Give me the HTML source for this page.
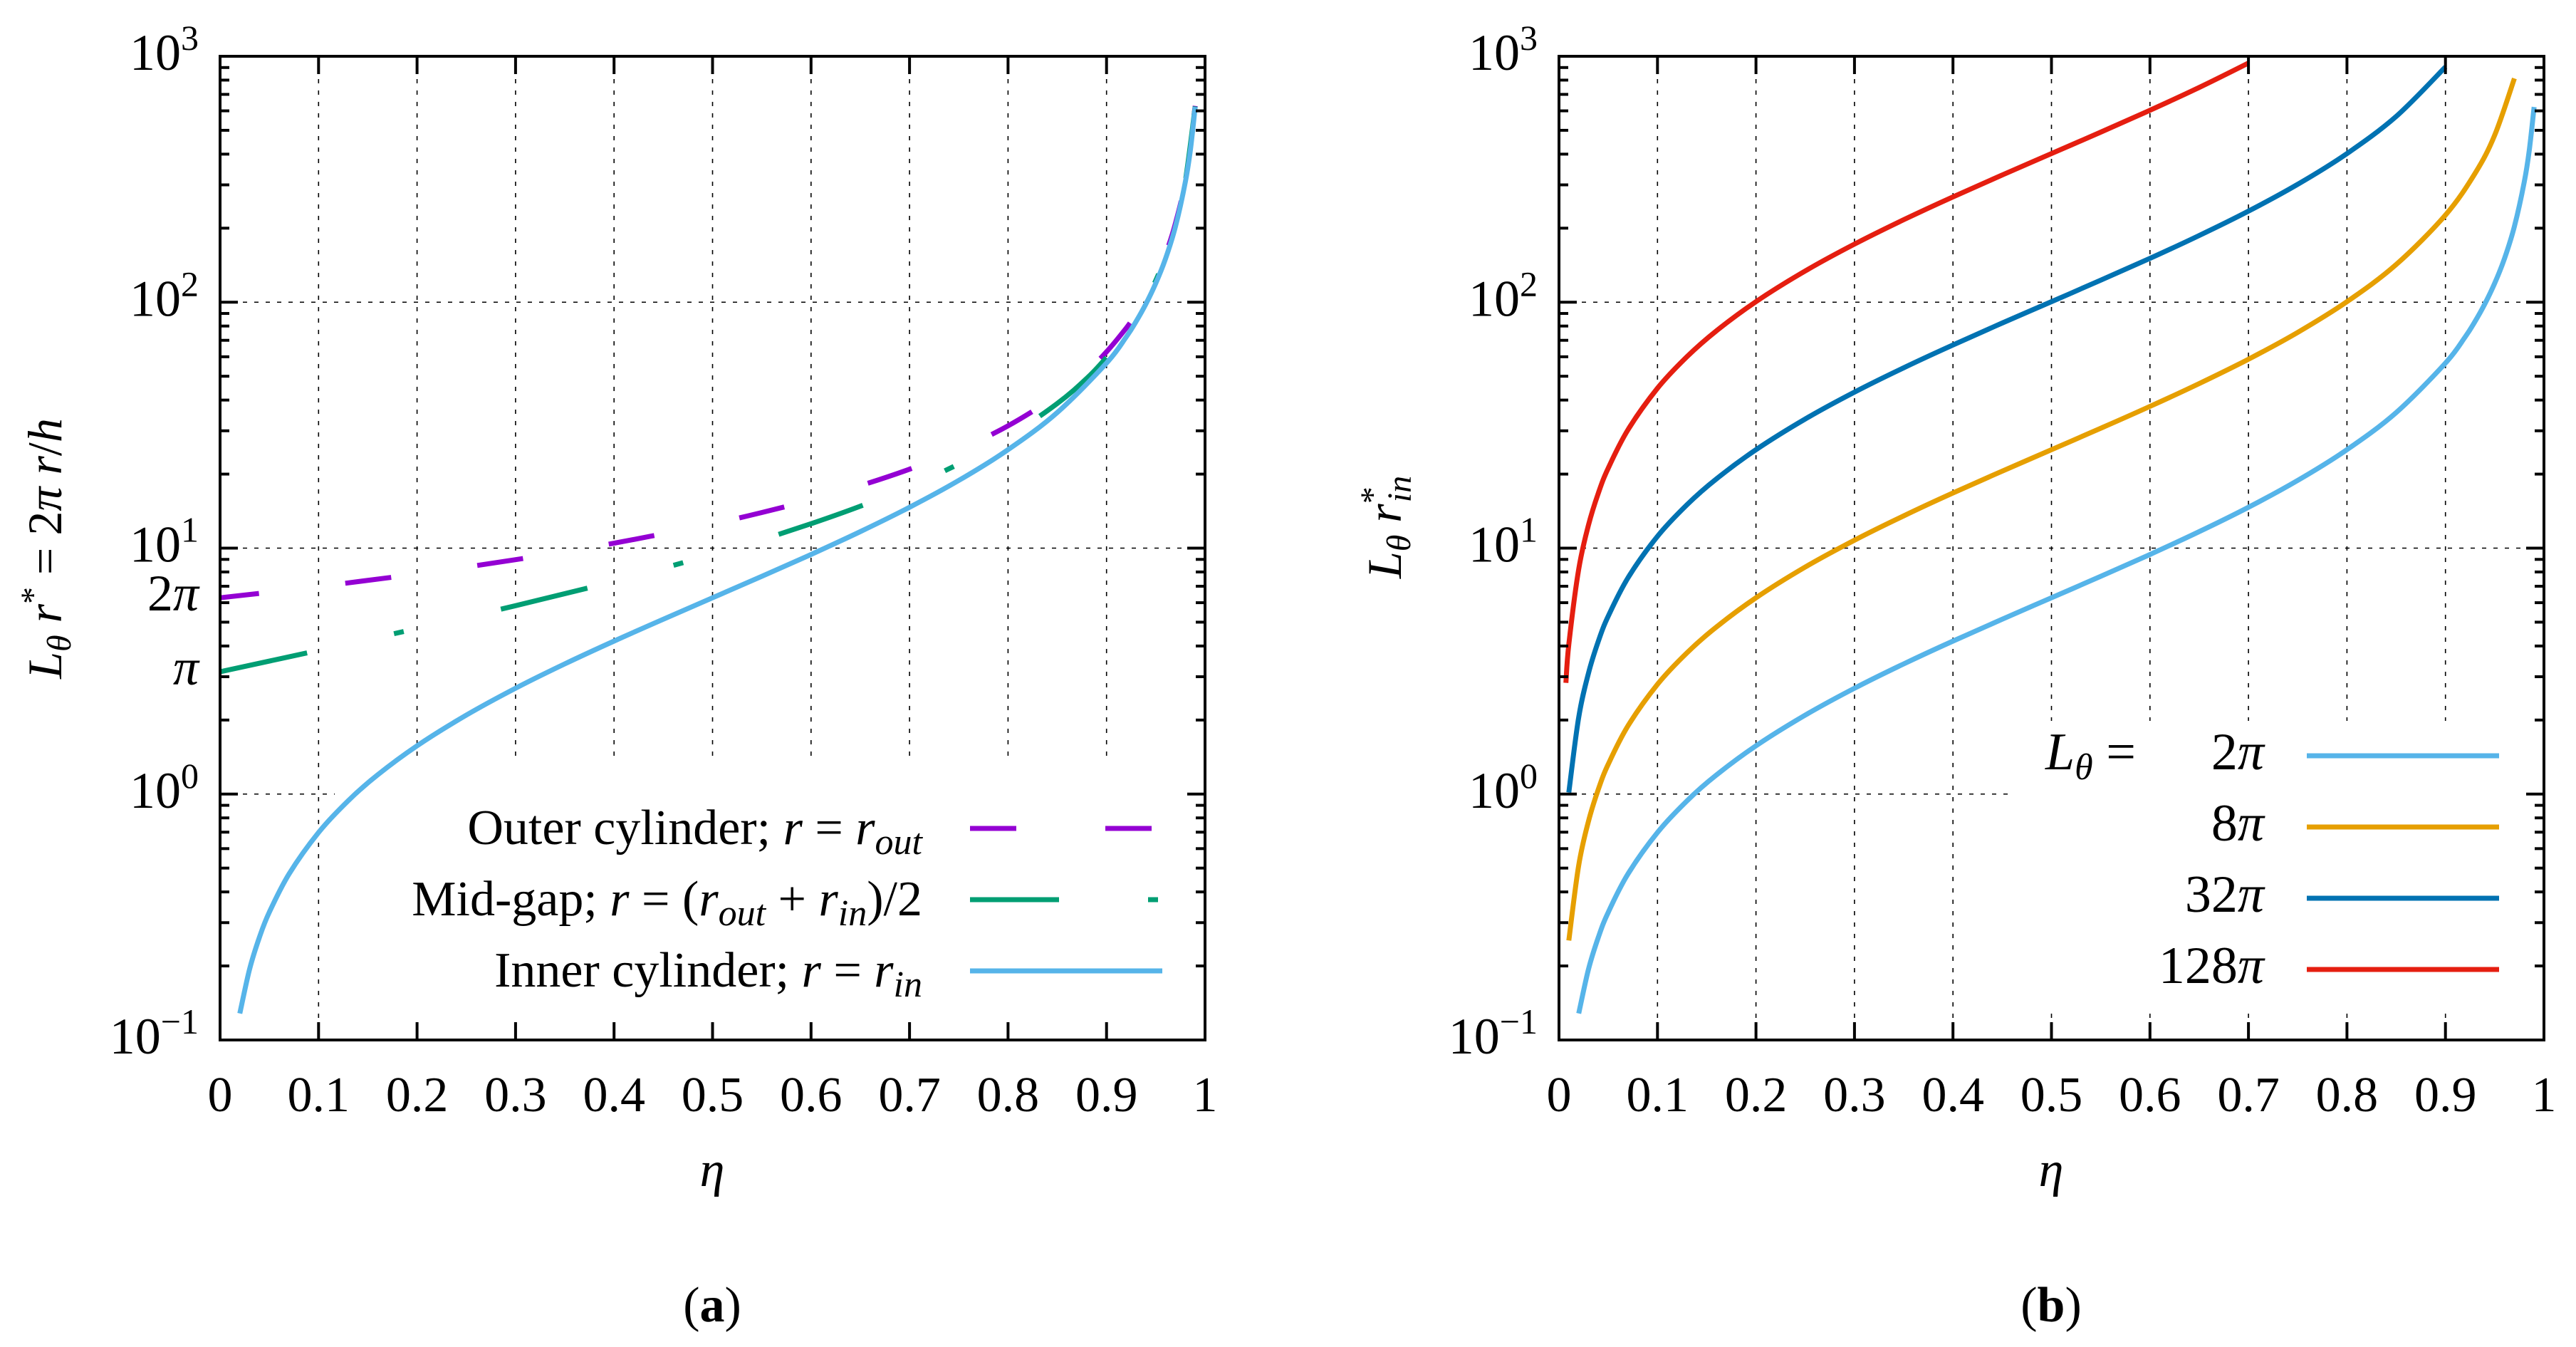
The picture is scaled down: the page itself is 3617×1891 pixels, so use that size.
<!DOCTYPE html>
<html><head><meta charset="utf-8"><style>
html,body{margin:0;padding:0;background:#fff}
svg{display:block}
text{font-family:"Liberation Serif",serif;fill:#000}
.it{font-style:italic}
</style></head><body>
<svg id="fig" width="3617" height="1891" viewBox="0 0 3617 1891" xmlns="http://www.w3.org/2000/svg">
<g id="pa"></g>
<g id="pb"></g>
</svg>
<script>
// ---- data ----
const xTicks = [0,0.1,0.2,0.3,0.4,0.5,0.6,0.7,0.8,0.9,1];
const xTickLabels = ["0","0.1","0.2","0.3","0.4","0.5","0.6","0.7","0.8","0.9","1"];
const yDecades = [-1,0,1,2,3];
const etaInner = [0.02,0.03,0.04,0.05,0.07,0.1,0.13,0.16,0.2,0.25,0.3,0.35,0.4,0.45,0.5,0.55,0.6,0.65,0.7,0.75,0.8,0.85,0.9,0.92,0.93,0.94,0.95,0.96,0.97,0.98,0.985,0.99];
const valInner = [0.1282,0.1943,0.2618,0.3307,0.4729,0.698,0.939,1.197,1.571,2.094,2.693,3.383,4.189,5.141,6.283,7.679,9.425,11.67,14.66,18.85,25.13,35.6,56.55,72.26,83.5,98.44,119.4,150.8,203.2,307.9,412.6,622.0];
const etaOuter = [0,0.1,0.2,0.3,0.4,0.5,0.55,0.6,0.65,0.7,0.75,0.8,0.85,0.88,0.9,0.92,0.93,0.94,0.95,0.96,0.97,0.98,0.99];
const valOuter = [6.283,6.981,7.854,8.976,10.47,12.57,13.96,15.71,17.95,20.94,25.13,31.42,41.89,52.36,62.83,78.54,89.76,104.7,125.7,157.1,209.4,314.2,628.3];
const valMid   = [3.142,3.840,4.712,5.834,7.330,9.425,10.82,12.57,14.81,17.80,21.99,28.27,38.75,49.05,59.69,75.40,86.62,101.5,122.5,153.9,206.3,311.0,625.2];
const etaB = [0.01,0.02,0.03,0.04,0.05,0.07,0.1,0.13,0.16,0.2,0.25,0.3,0.35,0.4,0.45,0.5,0.55,0.6,0.65,0.7,0.75,0.8,0.85,0.9,0.93,0.95,0.97];
const val8pi = [0.2539,0.513,0.777,1.047,1.323,1.892,2.793,3.755,4.787,6.283,8.378,10.77,13.53,16.76,20.56,25.13,30.72,37.70,46.68,58.64,75.40,100.5,142.4,226.2,333.9,477.5,812.6];
const val32pi = [1.015,2.052,3.109,4.189,5.291,7.567,11.17,15.02,19.15,25.13,33.51,43.09,54.13,67.02,82.25,100.5,122.9,150.8,186.7,234.6,301.6,402.1,569.7,904.8];
const eta128 = [0.007,0.01,0.02,0.03,0.04,0.05,0.07,0.1,0.13,0.16,0.2,0.25,0.3,0.35,0.4,0.45,0.5,0.55,0.6,0.65,0.7];
const val128pi = [2.834,4.062,8.207,12.44,16.76,21.16,30.27,44.68,60.08,76.59,100.5,134.0,172.3,216.5,268.1,329.0,402.1,491.5,603.2,746.8,938.3];

const NS="http://www.w3.org/2000/svg";
function mk(parent,tag,attrs){const e=document.createElementNS(NS,tag);for(const k in attrs)e.setAttribute(k,attrs[k]);parent.appendChild(e);return e;}

function makeAxes(L,R,T,B){
  const sx=v=>L+(R-L)*v;
  const sy=v=>B-(B-T)*(Math.log10(v)+1)/4;
  return {sx,sy,L,R,T,B};
}

function drawFrame(g,ax,name){
  const {sx,sy,L,R,T,B}=ax;
  const grid=mk(g,'g',{});
  
  
  for(let i=1;i<xTicks.length-1;i++){
    const l=mk(grid,'line',{x1:sx(xTicks[i]),x2:sx(xTicks[i]),y1:T,y2:B,stroke:'#000','stroke-width':1.6,'stroke-dasharray':'6 10'});
    
    
  }
  for(const d of [0,1,2]){
    const l=mk(grid,'line',{x1:L,x2:R,y1:sy(Math.pow(10,d)),y2:sy(Math.pow(10,d)),stroke:'#000','stroke-width':1.6,'stroke-dasharray':'6 10'});
    
    
  }
}

function drawTicks(g,ax,name){
  const {sx,sy,L,R,T,B}=ax;
  const tk=mk(g,'g',{stroke:'#000','stroke-width':4});
  
  
  xTicks.forEach(v=>{
    mk(tk,'line',{x1:sx(v),x2:sx(v),y1:B,y2:B-25});
    mk(tk,'line',{x1:sx(v),x2:sx(v),y1:T,y2:T+25});
  });
  yDecades.forEach(d=>{
    const y=sy(Math.pow(10,d));
    mk(tk,'line',{x1:L,x2:L+25,y1:y,y2:y});
    mk(tk,'line',{x1:R,x2:R-25,y1:y,y2:y});
    if(d<3){for(let m=2;m<=9;m++){const yy=sy(m*Math.pow(10,d));
      mk(tk,'line',{x1:L,x2:L+13,y1:yy,y2:yy});
      mk(tk,'line',{x1:R,x2:R-13,y1:yy,y2:yy});}}
  });
  const fr=mk(g,'rect',{x:L,y:T,width:R-L,height:B-T,fill:'none',stroke:'#000','stroke-width':4});
  
  
  const lab=mk(g,'g',{});
  
  
  xTicks.forEach((v,i)=>{
    const t=mk(lab,'text',{x:sx(v),y:1560,'font-size':70,'text-anchor':'middle'});
    t.textContent=xTickLabels[i];
    
    
  });
  yDecades.forEach(d=>{
    const y=sy(Math.pow(10,d));
    const t=mk(lab,'text',{x:L-30,y:y+19,'font-size':72,'text-anchor':'end'});
    
    
    const a=mk(t,'tspan',{});a.textContent='10';
    const b=mk(t,'tspan',{dy:-28,'font-size':50});b.textContent=(d<0?'\u2212':'')+Math.abs(d);
  });
}

// Catmull-Rom smoothing through data points (screen space)
function smoothPath(pts){
  let d='M'+pts[0][0].toFixed(1)+','+pts[0][1].toFixed(1);
  for(let i=0;i<pts.length-1;i++){
    const p0=pts[Math.max(0,i-1)],p1=pts[i],p2=pts[i+1],p3=pts[Math.min(pts.length-1,i+2)];
    const c1=[p1[0]+(p2[0]-p0[0])/6,p1[1]+(p2[1]-p0[1])/6];
    const c2=[p2[0]-(p3[0]-p1[0])/6,p2[1]-(p3[1]-p1[1])/6];
    d+=' C'+c1[0].toFixed(1)+','+c1[1].toFixed(1)+' '+c2[0].toFixed(1)+','+c2[1].toFixed(1)+' '+p2[0].toFixed(1)+','+p2[1].toFixed(1);
  }
  return d;
}
function line(g,ax,xs,ys,color,dash,off,name){
  const pts=ys.map((y,i)=>[ax.sx(xs[i]),ax.sy(y)]);
  const p=mk(g,'path',{d:smoothPath(pts),fill:'none',stroke:color,'stroke-width':7,'stroke-linejoin':'round'});
  if(dash){p.setAttribute('stroke-dasharray',dash);p.setAttribute('stroke-dashoffset',off||0);}
  
  
  return p;
}

// ---------- Panel (a) ----------
const ga=document.getElementById('pa');
const A=makeAxes(309,1692,79,1460);
drawFrame(ga,A,'panel-a');
const boxA=mk(ga,'rect',{x:470,y:1065,width:1218,height:392,fill:'#fff'});


const sa=mk(ga,'g',{});


line(sa,A,etaOuter,valOuter,'#9400d3','65 122',10,'outer-cylinder-line');
line(sa,A,etaOuter,valMid,'#009e73','125 125 14 140',0,'mid-gap-line');
line(sa,A,etaInner,valInner,'#56b4e9',null,0,'inner-cylinder-line');
drawTicks(ga,A,'panel-a');

const la=mk(ga,'g',{'font-size':70});


function legA(y,html,color,dash,name){
  const t=mk(la,'text',{x:1295,y:y+22,'text-anchor':'end'});
  t.innerHTML=html;
  
  
  const l=mk(la,'line',{x1:1362,x2:1632,y1:y,y2:y,stroke:color,'stroke-width':7});
  if(dash)l.setAttribute('stroke-dasharray',dash);
  
  
}
legA(1163,'Outer cylinder; <tspan class="it">r</tspan> = <tspan class="it">r</tspan><tspan class="it" font-size="52" dy="14">out</tspan>','#9400d3','65 125','legend-outer');
legA(1263,'Mid-gap; <tspan class="it">r</tspan> = (<tspan class="it">r</tspan><tspan class="it" font-size="52" dy="14">out</tspan><tspan dy="-14"> + </tspan><tspan class="it">r</tspan><tspan class="it" font-size="52" dy="14">in</tspan><tspan dy="-14">)/2</tspan>','#009e73','125 125 14 140','legend-mid');
legA(1363,'Inner cylinder; <tspan class="it">r</tspan> = <tspan class="it">r</tspan><tspan class="it" font-size="52" dy="14">in</tspan>','#56b4e9',null,'legend-inner');

[[6.2832,'2pi'],[3.1416,'pi']].forEach(([v,s])=>{
  const t=mk(ga,'text',{x:279,y:A.sy(v)+18,'font-size':72,'text-anchor':'end'});
  t.innerHTML=s==='2pi'?'2<tspan class="it">\u03c0</tspan>':'<tspan class="it">\u03c0</tspan>';
  
  
});
const yta=mk(ga,'text',{transform:'translate(86,770) rotate(-90)','font-size':68,'text-anchor':'middle'});
yta.innerHTML='<tspan class="it">L</tspan><tspan class="it" font-size="48" dy="13">\u03b8</tspan><tspan class="it" dy="-13"> r</tspan><tspan font-size="48" dy="-24">*</tspan><tspan dy="24"> = 2</tspan><tspan class="it">\u03c0 r</tspan>/<tspan class="it">h</tspan>';


const xta=mk(ga,'text',{x:1000,y:1665,'font-size':70,'text-anchor':'middle',class:'it'});
xta.textContent='\u03b7';


const ca=mk(ga,'text',{x:1000,y:1855,'font-size':70,'text-anchor':'middle'});
ca.innerHTML='(<tspan font-weight="bold">a</tspan>)';



// ---------- Panel (b) ----------
const gb=document.getElementById('pb');
const Bx=makeAxes(2189,3572,79,1460);
drawFrame(gb,Bx,'panel-b');
const boxB=mk(gb,'rect',{x:2822,y:1012,width:746,height:406,fill:'#fff'});


const sb=mk(gb,'g',{});


line(sb,Bx,etaInner,valInner,'#56b4e9',null,0,'line-2pi');
line(sb,Bx,etaB,val8pi,'#e69f00',null,0,'line-8pi');
line(sb,Bx,etaB,val32pi,'#0072b2',null,0,'line-32pi');
line(sb,Bx,eta128,val128pi,'#e51e10',null,0,'line-128pi');
drawTicks(gb,Bx,'panel-b');

const lb=mk(gb,'g',{'font-size':74});


const lt=mk(lb,'text',{x:2872,y:1080});
lt.innerHTML='<tspan class="it">L</tspan><tspan class="it" font-size="52" dy="14">\u03b8</tspan><tspan dy="-14">  =</tspan>';


[['2','#56b4e9'],['8','#e69f00'],['32','#0072b2'],['128','#e51e10']].forEach(([n,c],i)=>{
  const y=1061+i*100;
  const t=mk(lb,'text',{x:3179,y:y+19,'text-anchor':'end'});
  t.innerHTML=n+'<tspan class="it">\u03c0</tspan>';
  
  
  const l=mk(lb,'line',{x1:3239,x2:3509,y1:y,y2:y,stroke:c,'stroke-width':7});
  
  
});
const ytb=mk(gb,'text',{transform:'translate(1967,740) rotate(-90)','font-size':68,'text-anchor':'middle'});
ytb.innerHTML='<tspan class="it">L</tspan><tspan class="it" font-size="48" dy="13">\u03b8</tspan><tspan class="it" dy="-13"> r</tspan><tspan font-size="48" dy="-24">*</tspan><tspan class="it" font-size="48" dx="-22" dy="38">in</tspan>';


const xtb=mk(gb,'text',{x:2880,y:1665,'font-size':70,'text-anchor':'middle',class:'it'});
xtb.textContent='\u03b7';


const cb=mk(gb,'text',{x:2880,y:1855,'font-size':70,'text-anchor':'middle'});
cb.innerHTML='(<tspan font-weight="bold">b</tspan>)';


</script>
</body></html>
